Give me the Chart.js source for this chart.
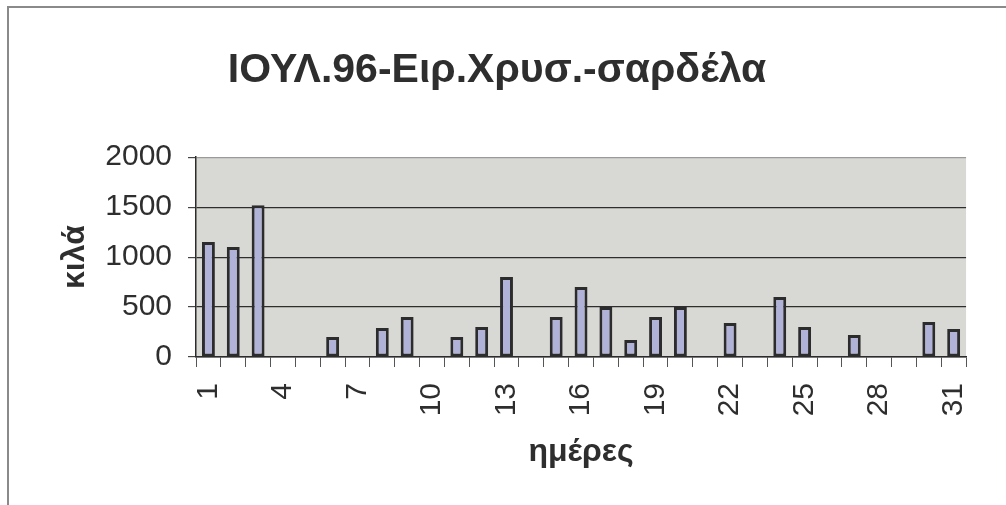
<!DOCTYPE html>
<html>
<head>
<meta charset="utf-8">
<script src="https://cdn.jsdelivr.net/npm/chart.js@4"></script>
<style>
  html, body { margin: 0; padding: 0; background: #fff; }
  #wrap { width: 1006px; height: 505px; position: relative; }
</style>
</head>
<body>
<div id="wrap"><canvas id="c" width="1006" height="505"></canvas></div>
<script>
const chartTitle = 'ΙΟΥΛ.96-Ειρ.Χρυσ.-σαρδέλα';
const xTitle = 'ημέρες';
const yTitle = 'κιλά';
const days = Array.from({length: 31}, (_, i) => String(i + 1));
const kilos = [1150, 1100, 1520, 0, 0, 200, 0, 290, 400, 0, 200, 300, 800, 0, 400, 700, 500, 170, 400, 500, 0, 340, 0, 600, 300, 0, 220, 0, 0, 350, 280];
const yTicks = [0, 500, 1000, 1500, 2000];
const shownEvery = 3;

const FONT = '"Liberation Sans", Arial, sans-serif';
const TXT = '#2e2e2e';

const framePlugin = {
  id: 'frame',
  beforeDraw(chart) {
    const {ctx, chartArea: a} = chart;
    ctx.save();
    ctx.fillStyle = '#ffffff';
    ctx.fillRect(0, 0, chart.width, chart.height);
    ctx.strokeStyle = '#8a8a8a';
    ctx.lineWidth = 2;
    ctx.beginPath();
    ctx.moveTo(8, 505);
    ctx.lineTo(8, 7);
    ctx.lineTo(1006, 7);
    ctx.stroke();
    ctx.fillStyle = '#d8d8d5';
    ctx.fillRect(a.left, a.top, a.right - a.left, a.bottom - a.top);
    ctx.restore();
  }
};

new Chart(document.getElementById('c'), {
  type: 'bar',
  data: {
    labels: days,
    datasets: [{
      data: kilos,
      backgroundColor: '#b0b2d8',
      borderColor: '#2c2c2c',
      borderWidth: 3,
      borderSkipped: false,
      categoryPercentage: 1.0,
      barPercentage: 0.52
    }]
  },
  options: {
    responsive: false,
    animation: false,
    layout: { padding: { left: 10, right: 22, top: 0, bottom: 0 } },
    plugins: {
      legend: { display: false },
      tooltip: { enabled: false },
      title: {
        display: true,
        text: chartTitle,
        color: TXT,
        font: { family: FONT, size: 41, weight: 'bold', lineHeight: 1.2 },
        padding: { top: 46, bottom: 62 }
      }
    },
    scales: {
      x: {
        afterFit(s) { s.height = 148; },
        border: { display: true, color: '#2c2c2c', width: 1.5 },
        grid: { display: true, drawOnChartArea: false, drawTicks: true, tickLength: 10, color: '#555', offset: true },
        ticks: {
          autoSkip: false,
          minRotation: 90,
          maxRotation: 90,
          padding: 16,
          color: TXT,
          font: { family: FONT, size: 30 },
          callback(v, i) { return i % shownEvery === 0 ? days[i] : ''; }
        },
        title: {
          display: true,
          text: xTitle,
          color: TXT,
          font: { family: FONT, size: 32, weight: 'bold', lineHeight: 1.2 },
          padding: { top: 0, bottom: 34 }
        }
      },
      y: {
        min: 0,
        max: 2000,
        afterFit(s) { s.width = 186; },
        afterBuildTicks(s) { s.ticks = yTicks.map(v => ({value: v})); },
        border: { display: true, color: '#2c2c2c', width: 1.5 },
        grid: {
          drawTicks: true,
          tickLength: 8,
          color: (c) => (c.tick && c.tick.value === 2000 ? '#9a9a9a' : '#2e2e2e'),
          tickColor: '#444',
          lineWidth: 1.2
        },
        ticks: {
          padding: 16,
          color: TXT,
          font: { family: FONT, size: 30 },
          callback(v) { return String(v); }
        },
        title: {
          display: true,
          text: yTitle,
          color: TXT,
          font: { family: FONT, size: 32, weight: 'bold', lineHeight: 1.2 },
          padding: { top: 46, bottom: 0 }
        }
      }
    }
  },
  plugins: [framePlugin]
});
</script>
</body>
</html>
